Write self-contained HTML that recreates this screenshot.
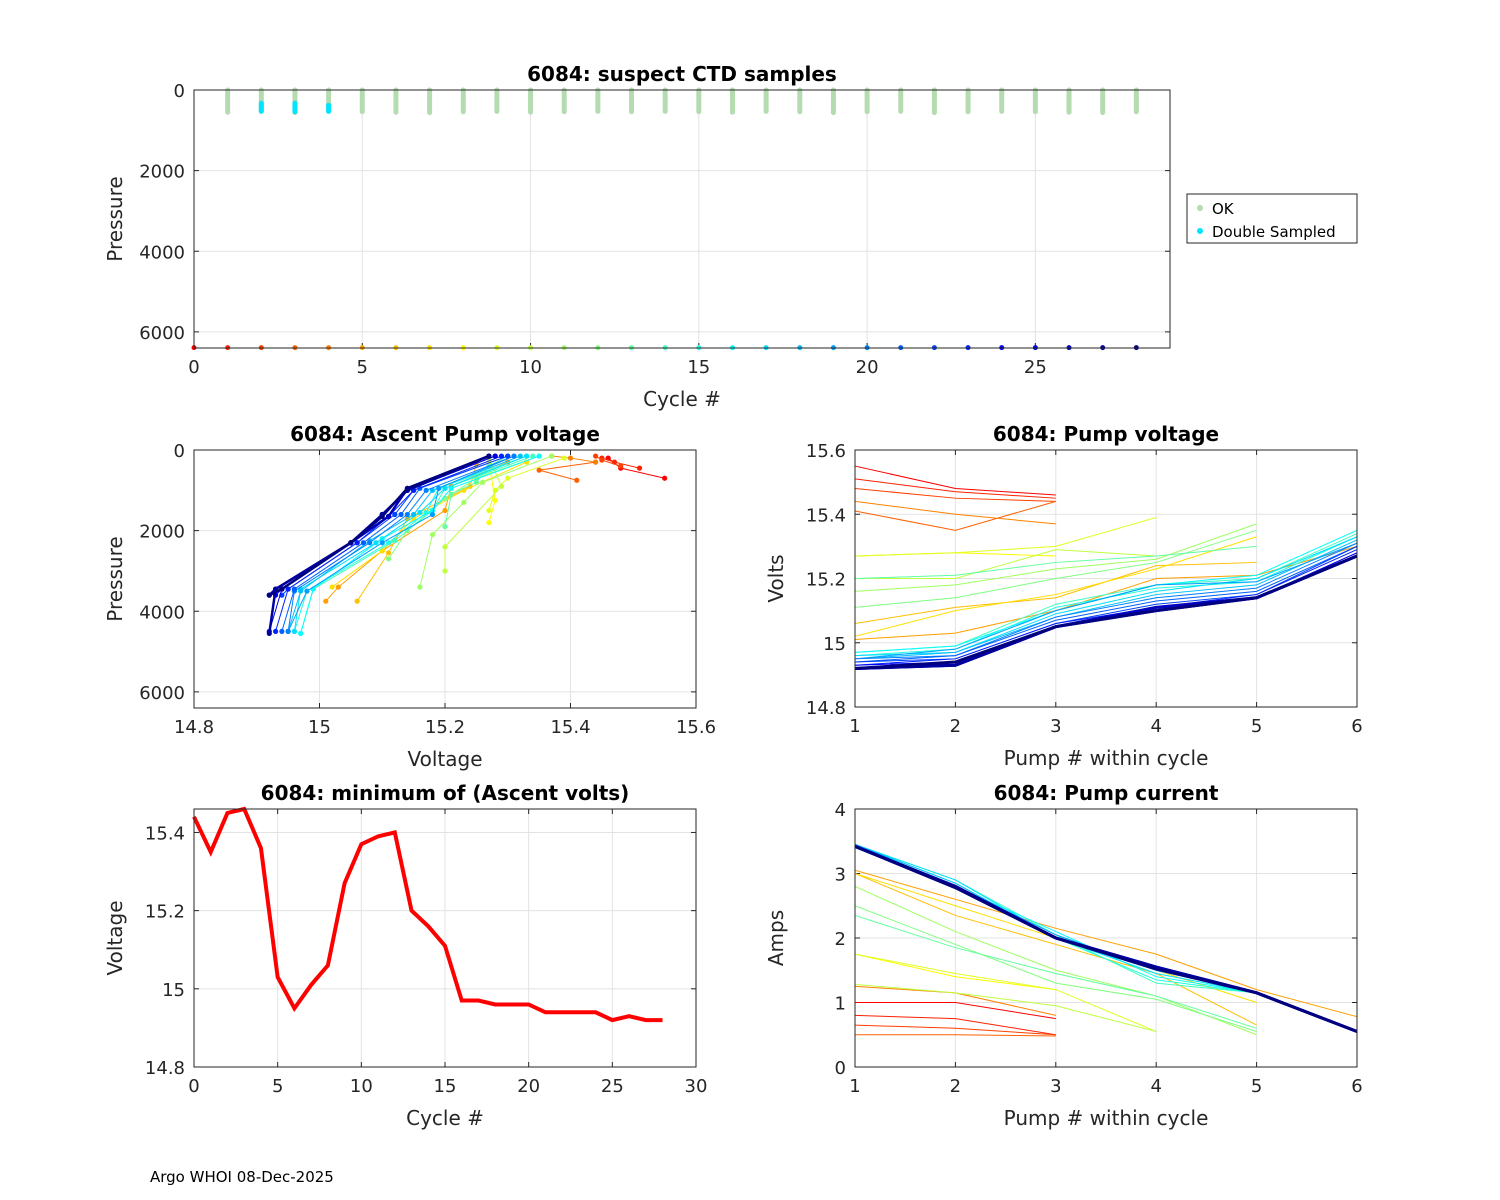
<!DOCTYPE html>
<html><head><meta charset="utf-8"><style>
html,body{margin:0;padding:0;background:#fff;}
svg{display:block;font-family:"DejaVu Sans","Liberation Sans",sans-serif;}
</style></head><body>
<svg id="fig" width="1500" height="1200" viewBox="0 0 1500 1200" xmlns="http://www.w3.org/2000/svg">
<rect width="1500" height="1200" fill="#fff"/>
<text x="150" y="1182" font-size="15" fill="#000">Argo WHOI 08-Dec-2025</text>
</svg>
<script>
const cycles=[0,1,2,3,4,5,6,7,8,9,10,11,12,13,14,15,16,17,18,19,20,21,22,23,24,25,26,27,28];
const minVolts=[15.44,15.35,15.45,15.46,15.36,15.03,14.95,15.01,15.06,15.27,15.37,15.39,15.40,15.20,15.16,15.11,14.97,14.97,14.96,14.96,14.96,14.94,14.94,14.94,14.94,14.92,14.93,14.92,14.92];
const okMaxP=[0,550,540,560,530,540,550,560,540,530,550,540,530,540,530,540,550,530,540,560,540,530,560,540,530,540,550,560,540];
const dblCycles=[2,3,4];
const dblMinP=[330,330,380];
const dblMaxP=[520,540,530];
const pumpV=[
[15.55,15.48,15.46],[15.51,15.47,15.45],[15.48,15.45,15.44],[15.41,15.35,15.44],[15.44,15.40,15.37],
[15.01,15.03,15.10,15.20,15.21,15.30],[15.06,15.11,15.14,15.24,15.25],[15.02,15.10,15.15,15.23,15.33],
[15.27,15.28,15.27],[15.27,15.28,15.30,15.39],[15.20,15.20,15.29,15.27],[15.16,15.18,15.23,15.26,15.37],
[15.11,15.14,15.20,15.25,15.35],[15.20,15.21,15.25,15.27,15.30],
[14.97,14.99,15.12,15.18,15.20,15.34],[14.96,14.98,15.11,15.17,15.19,15.33],[14.97,14.99,15.10,15.18,15.21,15.35],
[14.96,14.97,15.09,15.16,15.20,15.33],[14.95,14.97,15.08,15.15,15.18,15.32],[14.95,14.98,15.10,15.18,15.19,15.31],
[14.95,14.96,15.08,15.14,15.17,15.31],[14.94,14.96,15.07,15.13,15.16,15.30],[14.94,14.95,15.06,15.12,15.15,15.30],
[14.93,14.95,15.06,15.11,15.15,15.29],[14.93,14.94,15.05,15.11,15.14,15.28],[14.92,14.94,15.05,15.10,15.14,15.28],
[14.92,14.93,15.05,15.11,15.14,15.27],[14.92,14.93,15.05,15.10,15.14,15.27],[14.92,14.94,15.05,15.10,15.14,15.27]];
const pumpI=[
[1.0,1.0,0.75],[0.8,0.75,0.5],[0.65,0.6,0.5],[0.5,0.5,0.48],[1.25,1.15,0.8],
[3.05,2.6,2.15,1.75,1.2,0.78],[3.0,2.35,1.9,1.45,0.65],[3.0,2.5,2.0,1.5,1.0],
[1.75,1.4,1.2],[1.75,1.45,1.2,0.55],[1.28,1.15,0.95,0.55],[2.8,2.1,1.5,1.1,0.5],
[2.5,1.9,1.3,1.05,0.55],[2.35,1.85,1.45,1.1,0.6],
[3.45,2.9,2.05,1.3,1.15,0.55],[3.45,2.85,2.0,1.35,1.15,0.55],[3.4,2.8,2.1,1.4,1.15,0.56],
[3.45,2.9,2.0,1.45,1.15,0.55],[3.45,2.85,2.0,1.5,1.15,0.55],[3.45,2.8,2.05,1.5,1.15,0.55],
[3.45,2.8,2.0,1.5,1.15,0.55],[3.42,2.8,2.0,1.55,1.15,0.55],[3.42,2.78,2.0,1.55,1.15,0.55],
[3.42,2.8,2.0,1.55,1.15,0.55],[3.42,2.8,2.0,1.55,1.15,0.55],[3.42,2.78,2.0,1.55,1.15,0.55],
[3.42,2.8,2.0,1.55,1.15,0.55],[3.42,2.8,2.0,1.55,1.15,0.55],[3.42,2.78,2.0,1.52,1.15,0.55]];
const pumpP=[
[700,450,200],[450,300,200],[400,250,150],[750,500,300],[300,200,150],
[3750,3400,2500,1500,900,300],[3750,2550,1700,900,350],[3400,2500,1700,1000,300],
[1800,1250,300],[1500,1000,700,200],[3000,2400,900,200],[3400,2100,1300,800,150],
[2700,2000,1200,700,150],[1900,1100,800,400,150],
[4550,3450,2250,1500,950,150],[4500,3500,2300,1550,950,150],[4550,3450,2200,1500,950,150],
[4500,3450,2300,1550,950,150],[4500,3500,2250,1600,1000,150],[4500,3500,2300,1600,950,150],
[4500,3500,2300,1600,1000,150],[4500,3450,2300,1600,950,150],[3600,3450,2300,1600,1000,150],
[4500,3450,2300,1650,1000,150],[3600,3450,2300,1650,1000,150],[4500,3450,2300,1600,1000,150],
[3600,3450,2300,1650,950,150],[4550,3450,2300,1600,1000,150],[3600,3450,2300,1650,950,150]];
const topXTicks=[0,5,10,15,20,25];
const topYTicks=[0,2000,4000,6000];
const ascXTicks=[14.8,15,15.2,15.4,15.6];
const ascYTicks=[0,2000,4000,6000];
const pvXTicks=[1,2,3,4,5,6];
const pvYTicks=[14.8,15,15.2,15.4,15.6];
const minXTicks=[0,5,10,15,20,25,30];
const minYTicks=[14.8,15,15.2,15.4];
const piYTicks=[0,1,2,3,4];

const NS="http://www.w3.org/2000/svg";
const svg=document.getElementById('fig');
function el(tag,attrs,parent){const e=document.createElementNS(NS,tag);for(const k in attrs)e.setAttribute(k,attrs[k]);(parent||svg).appendChild(e);return e;}
function cl(v){return Math.max(0,Math.min(1,v));}
function jet(c){const t=0.875*(1-c/28);const r=cl(1.5-Math.abs(4*t-3)),g=cl(1.5-Math.abs(4*t-2)),b=cl(1.5-Math.abs(4*t-1));return `rgb(${Math.round(r*255)},${Math.round(g*255)},${Math.round(b*255)})`;}
function fmt(v){return (Math.round(v*10)/10).toString();}
function axes(name,x0,x1,y0,y1,xd,yd,xt,yt,title,xl,yl){
  const sx=v=>x0+(v-xd[0])/(xd[1]-xd[0])*(x1-x0);
  const sy=v=>y0+(v-yd[0])/(yd[1]-yd[0])*(y1-y0);
  const g=el('g',{});
  
  
  el('rect',{x:x0,y:Math.min(y0,y1),width:x1-x0,height:Math.abs(y1-y0),fill:'#fff'},g);
  xt.forEach(v=>{const x=sx(v);el('line',{x1:x,x2:x,y1:y0,y2:y1,stroke:'#e3e3e3','stroke-width':1},g);
    el('line',{x1:x,x2:x,y1:Math.max(y0,y1),y2:Math.max(y0,y1)-5,stroke:'#262626'},g);
    el('line',{x1:x,x2:x,y1:Math.min(y0,y1),y2:Math.min(y0,y1)+5,stroke:'#262626'},g);
    const t=el('text',{x:x,y:Math.max(y0,y1)+25,'font-size':18,'text-anchor':'middle',fill:'#262626'},g);t.textContent=fmt(v);
    });
  yt.forEach(v=>{const y=sy(v);el('line',{x1:x0,x2:x1,y1:y,y2:y,stroke:'#e3e3e3','stroke-width':1},g);
    el('line',{x1:x0,x2:x0+5,y1:y,y2:y,stroke:'#262626'},g);el('line',{x1:x1,x2:x1-5,y1:y,y2:y,stroke:'#262626'},g);
    const t=el('text',{x:x0-9,y:y+7,'font-size':18,'text-anchor':'end',fill:'#262626'},g);t.textContent=fmt(v);
    });
  const tt=el('text',{x:(x0+x1)/2,y:Math.min(y0,y1)-9,'font-size':20,'font-weight':'bold','text-anchor':'middle',fill:'#000'},g);tt.textContent=title;
  
  const xx=el('text',{x:(x0+x1)/2,y:Math.max(y0,y1)+58,'font-size':20,'text-anchor':'middle',fill:'#262626'},g);xx.textContent=xl;
  
  const cy=(y0+y1)/2;
  const yy=el('text',{x:0,y:0,'font-size':20,'text-anchor':'middle',fill:'#262626',transform:`translate(${x0-72},${cy}) rotate(-90)`},g);yy.textContent=yl;
  
  const marks=el('g',{},g);
  const frame=()=>el('rect',{x:x0,y:Math.min(y0,y1),width:x1-x0,height:Math.abs(y1-y0),fill:'none',stroke:'#262626','stroke-width':1},g);
  return {sx,sy,marks,frame};
}
let A=axes('suspect-ctd-plot',194,1170,90,348,[0,29],[0,6400],topXTicks,topYTicks,'6084: suspect CTD samples','Cycle #','Pressure');
cycles.forEach((c,i)=>{ if(okMaxP[i]>0){const r=el('line',{x1:A.sx(c),x2:A.sx(c),y1:A.sy(0),y2:A.sy(okMaxP[i]),stroke:'#b5dbb0','stroke-width':5,'stroke-linecap':'round'},A.marks);
  }});
dblCycles.forEach((c,i)=>{const r=el('line',{x1:A.sx(c),x2:A.sx(c),y1:A.sy(dblMinP[i]),y2:A.sy(dblMaxP[i]),stroke:'#00e5ff','stroke-width':5,'stroke-linecap':'round'},A.marks);
  });
cycles.forEach(c=>{const d=el('circle',{cx:A.sx(c),cy:A.sy(6390),r:2.5,fill:jet(c)},A.marks);
  });
A.frame();
const lg=el('g',{});


el('rect',{x:1187,y:194,width:170,height:49,fill:'#fff',stroke:'#262626'},lg);
el('circle',{cx:1200,cy:208,r:3,fill:'#b5dbb0'},lg);
el('circle',{cx:1200,cy:231,r:3,fill:'#00e5ff'},lg);
let t1=el('text',{x:1212,y:214,'font-size':15,fill:'#000'},lg);t1.textContent='OK';

let t2=el('text',{x:1212,y:237,'font-size':15,fill:'#000'},lg);t2.textContent='Double Sampled';


function poly(ax,xs,ys,col,w,name,dots){
  const p=xs.map((x,i)=>ax.sx(x)+','+ax.sy(ys[i])).join(' ');
  const l=el('polyline',{points:p,fill:'none',stroke:col,'stroke-width':w},ax.marks);
  
  
  if(dots)xs.forEach((x,i)=>el('circle',{cx:ax.sx(x),cy:ax.sy(ys[i]),r:2.6,fill:col},ax.marks));
}
let B=axes('ascent-pump-voltage-plot',194,696,450,708,[14.8,15.6],[0,6400],ascXTicks,ascYTicks,'6084: Ascent Pump voltage','Voltage','Pressure');
cycles.forEach(c=>poly(B,pumpV[c],pumpP[c],jet(c),c>=26?2.5:1,'ascent-cycle-'+c,true));
B.frame();
let C=axes('pump-voltage-plot',855,1357,707,450,[1,6],[14.8,15.6],pvXTicks,pvYTicks,'6084: Pump voltage','Pump # within cycle','Volts');
cycles.forEach(c=>poly(C,pumpV[c].map((_,i)=>i+1),pumpV[c],jet(c),c>=26?3:1,'pump-voltage-cycle-'+c,false));
C.frame();
let D=axes('min-ascent-volts-plot',194,696,1067,809,[0,30],[14.8,15.46],minXTicks,minYTicks,'6084: minimum of (Ascent volts)','Cycle #','Voltage');
poly(D,cycles,minVolts,'#ff0000',4,'min-volts-line',false);
D.frame();
let E=axes('pump-current-plot',855,1357,1067,809,[1,6],[0,4],pvXTicks,piYTicks,'6084: Pump current','Pump # within cycle','Amps');
cycles.forEach(c=>poly(E,pumpI[c].map((_,i)=>i+1),pumpI[c],jet(c),c>=26?3:1,'pump-current-cycle-'+c,false));
E.frame();
</script>
</body></html>
